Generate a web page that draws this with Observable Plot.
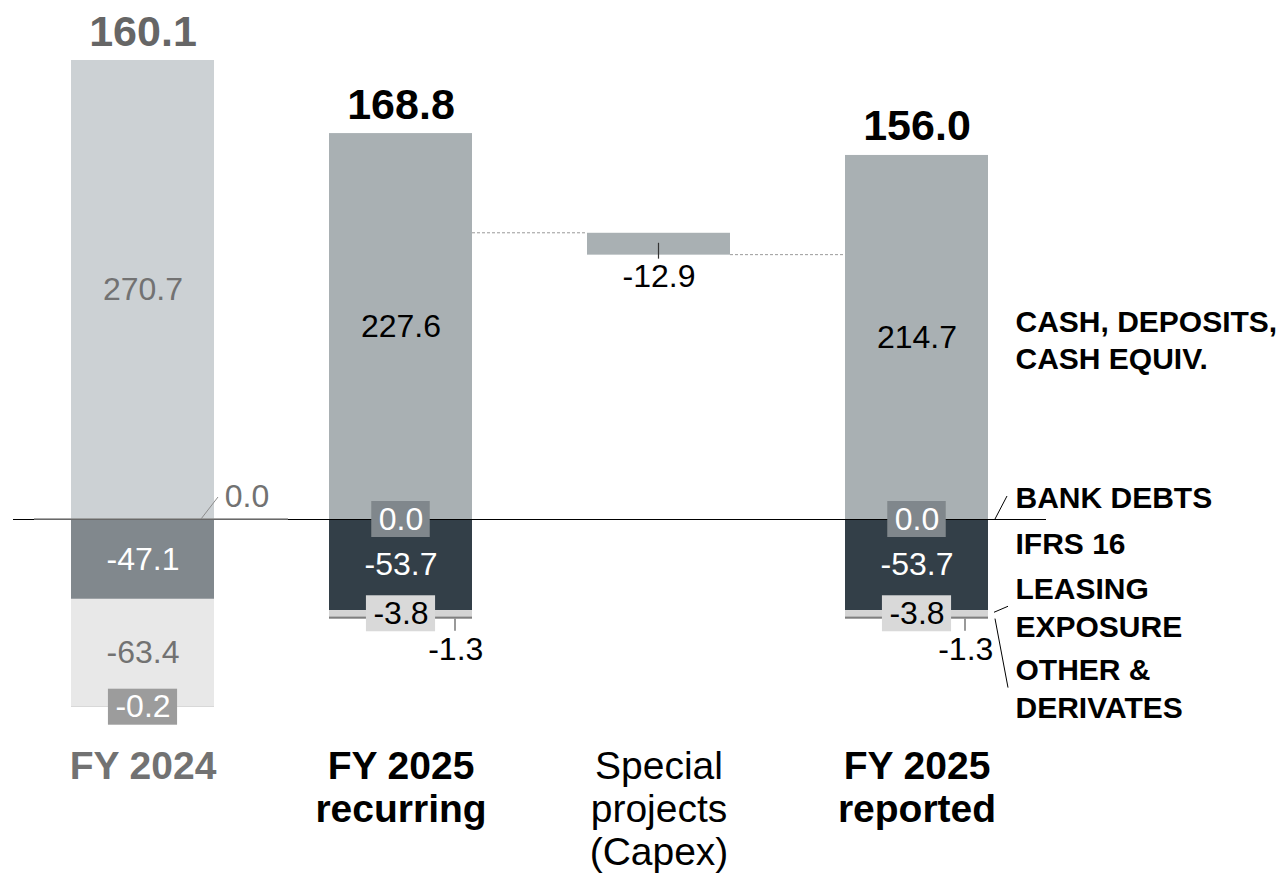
<!DOCTYPE html>
<html>
<head>
<meta charset="utf-8">
<script src="https://cdn.jsdelivr.net/npm/d3@7"></script>
<script src="https://cdn.jsdelivr.net/npm/@observablehq/plot@0.6"></script>
<style>
html, body { margin: 0; padding: 0; background: #fff; }
#chart svg { display: block; }
</style>
</head>
<body>
<div id="chart"></div>
<script>
// ---------- data ----------
const categories = ["FY 2024", "FY 2025 recurring", "Special projects (Capex)", "FY 2025 reported"];
const categoryLabels = ["FY 2024", "FY 2025\nrecurring", "Special\nprojects\n(Capex)", "FY 2025\nreported"];
const layerLabels = ["CASH, DEPOSITS,\nCASH EQUIV.", "BANK DEBTS", "IFRS 16", "LEASING\nEXPOSURE", "OTHER &\nDERIVATES"];
const cash       = [270.7, 227.6, null, 214.7];
const bankDebts  = [0.0,   0.0,   null, 0.0];
const ifrs16     = [-47.1, -53.7, null, -53.7];
const leasing    = [-63.4, -3.8,  null, -3.8];
const otherDeriv = [-0.2,  -1.3,  null, -1.3];
const netTotals  = [160.1, 168.8, null, 156.0];
const specialChange = [null, null, -12.9, null];

// ---------- styles / layout ----------
const FONT = "'Liberation Sans', Arial, Helvetica, sans-serif";
const W = 1285, H = 879;
const plotLeft = 13, plotRight = 1046;
const padIn = 0.4443;
const bandW = (plotRight - plotLeft) / categories.length * (1 - padIn);
const zeroY = 519, k = 1.6956;
const fy24Colors = ["#ccd1d4", "#8a8a8a", "#81888d", "#e8e8e8", "#9a9a9a"];
const fy25Colors = ["#a9b0b3", "#80878c", "#333f48", "#d4d4d4", "#7f7f7f"];
const grayText = "#727272";
const otherTickOffset = i => i === 3 ? -23 : -17;

// ---------- build segments ----------
const segs = [];
categories.forEach((c, i) => {
  if (cash[i] == null) return;
  segs.push({cat: c, i, layer: 0, y1: 0, y2: cash[i], value: cash[i]});
  segs.push({cat: c, i, layer: 1, y1: 0, y2: bankDebts[i], value: bankDebts[i]});
  let base = bankDebts[i];
  [ifrs16, leasing, otherDeriv].forEach((arr, j) => {
    segs.push({cat: c, i, layer: j + 2, y1: base, y2: base + arr[i], value: arr[i]});
    base += arr[i];
  });
});
const specialStart = netTotals[1];
const specialSeg = {cat: categories[2], i: 2, layer: 0, y1: specialStart, y2: specialStart + specialChange[2], value: specialChange[2]};
const segColor = d => d.i === 2 ? fy25Colors[0] : (d.i === 0 ? fy24Colors[d.layer] : fy25Colors[d.layer]);
const mid = d => (d.y1 + d.y2) / 2;
const fmt = v => v.toFixed(1);

const cashLabels = segs.filter(d => d.layer === 0);
const ifrsLabels = segs.filter(d => d.layer === 2);
const fy24Leasing = segs.filter(d => d.layer === 3 && d.i === 0);
const boxed = [
  ...segs.filter(d => d.layer === 1 && d.i !== 0).map(d => ({...d, yv: 0, bg: "#80878c", fg: "#fff"})),
  ...segs.filter(d => d.layer === 3 && d.i !== 0).map(d => ({...d, yv: mid(d), bg: "#d9d9d9", fg: "#000"})),
  ...segs.filter(d => d.layer === 4 && d.i === 0).map(d => ({...d, yv: d.y2, bg: "#9c9c9c", fg: "#fff"}))
];
const fy24Bank = segs.filter(d => d.layer === 1 && d.i === 0);
const fy25Other = segs.filter(d => d.layer === 4 && d.i !== 0);
const totals = segs.filter(d => d.layer === 0).map(d => ({cat: d.cat, i: d.i, top: d.y2, value: netTotals[d.i]}));
const rep = segs.filter(d => d.i === 3);

// ---------- custom decorations using the plot's scales ----------
function boxesMark(index, scales) {
  const sx = typeof scales.x === "function" ? scales.x : v => scales.x.apply(v);
  const sy = typeof scales.y === "function" ? scales.y : v => scales.y.apply(v);
  const bw = typeof sx.bandwidth === "function" ? sx.bandwidth() : bandW;
  const g = d3.create("svg:g");
  const fs = 32;
  const cw = ch => ch === "-" ? 0.333 : ch === "." ? 0.278 : 0.556;
  boxed.forEach(d => {
    const t = fmt(d.value);
    const w = [...t].reduce((s, ch) => s + cw(ch), 0) * fs + 14;
    const h = 36;
    const cx = sx(d.cat) + bw / 2, cy = sy(d.yv);
    g.append("rect").attr("x", cx - w / 2).attr("y", cy - h / 2).attr("width", w).attr("height", h).attr("fill", d.bg);
  });
  return g.node();
}

function linesMark(index, scales) {
  const sx = typeof scales.x === "function" ? scales.x : v => scales.x.apply(v);
  const sy = typeof scales.y === "function" ? scales.y : v => scales.y.apply(v);
  const bw = typeof sx.bandwidth === "function" ? sx.bandwidth() : bandW;
  const L = c => sx(c), R = c => sx(c) + bw, C = c => sx(c) + bw / 2;
  const g = d3.create("svg:g").attr("fill", "none");
  const line = (x1, y1, x2, y2, stroke, width, dash) => {
    const l = g.append("line").attr("x1", x1).attr("y1", y1).attr("x2", x2).attr("y2", y2)
      .attr("stroke", stroke).attr("stroke-width", width);
    if (dash) l.attr("stroke-dasharray", dash);
  };
  // FY 2024 zero line (gray)
  line(L(categories[0]) - 37, sy(0), R(categories[0]) + 74, sy(0), "#8c8c8c", 1.6);
  // dashed connectors
  line(R(categories[1]), sy(specialSeg.y1), L(categories[2]), sy(specialSeg.y1), "#9a9a9a", 1, "3,2");
  line(R(categories[2]), sy(specialSeg.y2), L(categories[3]), sy(specialSeg.y2), "#9a9a9a", 1, "3,2");
  // FY 2024 0.0 leader
  line(R(categories[0]) - 13, sy(0), R(categories[0]) + 4, sy(0) - 22, "#8c8c8c", 1);
  // other & derivates ticks
  fy25Other.forEach(d => {
    const x = R(d.cat) + otherTickOffset(d.i);
    line(x, sy(d.y2), x, sy(d.y2) + 12, "#555", 1.2);
  });
  // special tick
  line(C(categories[2]), sy(specialSeg.y1) + 10, C(categories[2]), sy(specialSeg.y2) + 4, "#333", 1.2);
  // legend leaders
  const r = R(categories[3]);
  const bank = rep.find(d => d.layer === 1), lea = rep.find(d => d.layer === 3), oth = rep.find(d => d.layer === 4);
  line(r + 7, sy(bank.y1), r + 19, sy(bank.y1) - 23, "#000", 1);
  line(r + 6, sy(mid(lea)) - 1, r + 20, sy(mid(lea)) - 7, "#000", 1);
  line(r + 7, sy(mid(oth)) + 1, r + 20, sy(mid(oth)) + 70, "#000", 1);
  return g.node();
}

const legendDy = [1, -24, -23, -8, 69];
const legendMarks = layerLabels.map((lab, j) => {
  const s = rep.find(d => d.layer === j);
  return Plot.text([{label: lab, y: j === 1 ? 0 : mid(s)}], {
    y: "y", text: "label", frameAnchor: "right", textAnchor: "start", lineAnchor: "middle",
    dx: -31, dy: legendDy[j], fontSize: 30, fontWeight: "bold", lineHeight: 1.25, fill: "#000"
  });
});

const chart = Plot.plot({
  width: W, height: H,
  marginLeft: plotLeft, marginRight: W - plotRight, marginTop: 0, marginBottom: 131,
  x: {domain: categories, paddingInner: padIn, paddingOuter: padIn / 2, axis: null},
  y: {domain: [-300, 300], range: [zeroY + 300 * k, zeroY - 300 * k], axis: null},
  color: {type: "identity"},
  style: {fontFamily: FONT, background: "#fff", overflow: "visible"},
  marks: [
    Plot.barY([...segs, specialSeg], {x: "cat", y1: "y1", y2: "y2", fill: segColor}),
    Plot.ruleY([0], {stroke: "#000", strokeWidth: 1.2}),
    linesMark,
    boxesMark,
    // values inside bars
    Plot.text(cashLabels, {x: "cat", y: mid, text: d => fmt(d.value), fontSize: 32,
      fill: d => d.i === 0 ? grayText : "#000"}),
    Plot.text(ifrsLabels, {x: "cat", y: mid, text: d => fmt(d.value), fontSize: 32, fill: "#fff"}),
    Plot.text(fy24Leasing, {x: "cat", y: mid, text: d => fmt(d.value), fontSize: 32, fill: grayText}),
    Plot.text(boxed, {x: "cat", y: "yv", text: d => fmt(d.value), fontSize: 32, fill: d => d.fg}),
    // outside labels
    Plot.text(fy24Bank, {x: "cat", y: 0, text: d => fmt(d.value), fontSize: 32, fill: grayText,
      textAnchor: "start", dx: bandW / 2 + 10, dy: -23}),
    ...fy25Other.map(d => Plot.text([d], {x: "cat", y: "y2", text: d => fmt(d.value), fontSize: 32, fill: "#000",
      dx: bandW / 2 + otherTickOffset(d.i), dy: 31})),
    Plot.text([specialSeg], {x: "cat", y: "y2", text: d => fmt(d.value), fontSize: 32, fill: "#000", dy: 22}),
    // totals
    Plot.text(totals, {x: "cat", y: "top", text: d => fmt(d.value), fontSize: 43, fontWeight: "bold",
      lineAnchor: "bottom", dy: -15, fill: d => d.i === 0 ? "#666" : "#000"}),
    // category labels
    Plot.text(categories, {x: d => d, text: (d, i) => categoryLabels[i], frameAnchor: "bottom", lineAnchor: "top",
      fontSize: 39, lineHeight: 1.1, fontWeight: "bold", filter: d => d !== categories[2],
      fill: d => d === categories[0] ? grayText : "#000"}),
    Plot.text(categories, {x: d => d, text: (d, i) => categoryLabels[i], frameAnchor: "bottom", lineAnchor: "top",
      fontSize: 39, lineHeight: 1.1, fontWeight: "normal", filter: d => d === categories[2], fill: "#000"}),
    ...legendMarks
  ]
});
document.getElementById("chart").appendChild(chart);
</script>
</body>
</html>
